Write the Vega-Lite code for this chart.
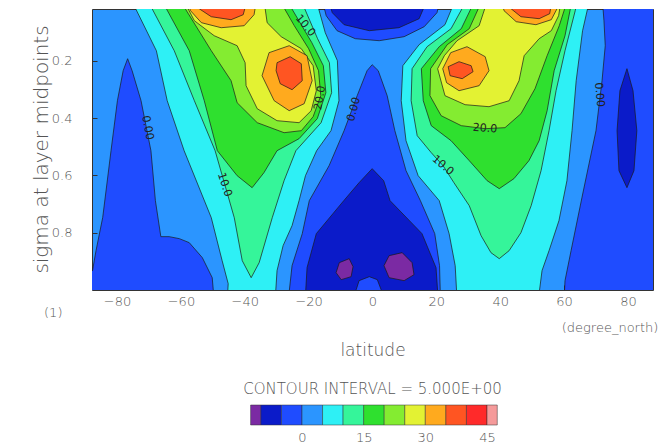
{
  "$schema": "https://vega.github.io/schema/vega-lite/v6.json",
  "background": "white",
  "padding": {"left": 30, "top": 8, "right": 0, "bottom": 0},
  "bounds": "flush",
  "spacing": 115,
  "config": {"font": "DejaVu Sans", "view": {"stroke": null}},
  "resolve": {"scale": {"x": "independent", "y": "independent", "color": "independent"}},
  "datasets": {
    "labs": [
      {"k":"a","t":"10.0","lat":-21.1,"s":0.078},
      {"k":"b","t":"20.0","lat":-16.4,"s":0.33},
      {"k":"c","t":"0.00","lat":-5.8,"s":0.37},
      {"k":"d","t":"0.00","lat":-70.5,"s":0.434},
      {"k":"e","t":"10.0","lat":-46.4,"s":0.633},
      {"k":"f","t":"20.0","lat":35.2,"s":0.437},
      {"k":"g","t":"10.0","lat":22.0,"s":0.566},
      {"k":"h","t":"0.00","lat":71.0,"s":0.319},
      {"k":"u","t":"(degree_north)","lat":74.4,"s":1.131},
      {"k":"v","t":"(1)","lat":-100,"s":1.079}
    ],
    "poly": [
      {"r":"sneg","band":-5,"i":0,"lat":-90.3,"s":1.037},{"r":"sneg","band":-5,"i":1,"lat":-90.3,"s":0.94},{"r":"sneg","band":-5,"i":2,"lat":-87.7,"s":0.9325},{"r":"sneg","band":-5,"i":3,"lat":-86.6,"s":0.8627},{"r":"sneg","band":-5,"i":4,"lat":-84.5,"s":0.7466},{"r":"sneg","band":-5,"i":5,"lat":-81.9,"s":0.514},{"r":"sneg","band":-5,"i":6,"lat":-79.9,"s":0.3396},{"r":"sneg","band":-5,"i":7,"lat":-78.1,"s":0.2349},{"r":"sneg","band":-5,"i":8,"lat":-76.7,"s":0.1931},{"r":"sneg","band":-5,"i":9,"lat":-75.3,"s":0.2349},{"r":"sneg","band":-5,"i":10,"lat":-72.5,"s":0.3396},{"r":"sneg","band":-5,"i":11,"lat":-69.4,"s":0.514},{"r":"sneg","band":-5,"i":12,"lat":-68.0,"s":0.6883},{"r":"sneg","band":-5,"i":13,"lat":-66.3,"s":0.8139},{"r":"sneg","band":-5,"i":14,"lat":-63.7,"s":0.8139},{"r":"sneg","band":-5,"i":15,"lat":-60.5,"s":0.8209},{"r":"sneg","band":-5,"i":16,"lat":-57.4,"s":0.8348},{"r":"sneg","band":-5,"i":17,"lat":-53.3,"s":0.8872},{"r":"sneg","band":-5,"i":18,"lat":-50.2,"s":0.957},{"r":"sneg","band":-5,"i":19,"lat":-49.6,"s":1.037},

      {"r":"s5","band":5,"i":0,"lat":-76.2,"s":-0.027},{"r":"s5","band":5,"i":1,"lat":-67.7,"s":0.1652},{"r":"s5","band":5,"i":2,"lat":-64.3,"s":0.3396},{"r":"s5","band":5,"i":3,"lat":-59.0,"s":0.514},{"r":"s5","band":5,"i":4,"lat":-50.5,"s":0.7477},{"r":"s5","band":5,"i":5,"lat":-47.1,"s":0.8977},{"r":"s5","band":5,"i":6,"lat":-45.2,"s":0.9779},{"r":"s5","band":5,"i":7,"lat":-45.5,"s":1.037},{"r":"s5","band":5,"i":8,"lat":-30.5,"s":1.037},{"r":"s5","band":5,"i":9,"lat":-29.9,"s":0.9325},{"r":"s5","band":5,"i":10,"lat":-28.0,"s":0.8453},{"r":"s5","band":5,"i":11,"lat":-25.2,"s":0.7756},{"r":"s5","band":5,"i":12,"lat":-23.0,"s":0.6883},{"r":"s5","band":5,"i":13,"lat":-21.0,"s":0.6012},{"r":"s5","band":5,"i":14,"lat":-17.5,"s":0.514},{"r":"s5","band":5,"i":15,"lat":-13.0,"s":0.4442},{"r":"s5","band":5,"i":16,"lat":-10.5,"s":0.3396},{"r":"s5","band":5,"i":17,"lat":-11.0,"s":0.2},{"r":"s5","band":5,"i":18,"lat":-14.8,"s":0.1024},{"r":"s5","band":5,"i":19,"lat":-18.0,"s":-0.027},

      {"r":"n5","band":5,"i":0,"lat":26.5,"s":-0.027},{"r":"n5","band":5,"i":1,"lat":22.7,"s":0.0745},{"r":"n5","band":5,"i":2,"lat":14.6,"s":0.1442},{"r":"n5","band":5,"i":3,"lat":9.5,"s":0.2175},{"r":"n5","band":5,"i":4,"lat":9.0,"s":0.3396},{"r":"n5","band":5,"i":5,"lat":10.5,"s":0.4791},{"r":"n5","band":5,"i":6,"lat":14.3,"s":0.6012},{"r":"n5","band":5,"i":7,"lat":20.9,"s":0.6883},{"r":"n5","band":5,"i":8,"lat":24.0,"s":0.8034},{"r":"n5","band":5,"i":9,"lat":25.9,"s":0.9151},{"r":"n5","band":5,"i":10,"lat":26.5,"s":1.037},{"r":"n5","band":5,"i":11,"lat":51.9,"s":1.037},{"r":"n5","band":5,"i":12,"lat":53.1,"s":0.9325},{"r":"n5","band":5,"i":13,"lat":55.3,"s":0.8627},{"r":"n5","band":5,"i":14,"lat":58.4,"s":0.7581},{"r":"n5","band":5,"i":15,"lat":60.9,"s":0.6186},{"r":"n5","band":5,"i":16,"lat":62.5,"s":0.4442},{"r":"n5","band":5,"i":17,"lat":63.8,"s":0.2698},{"r":"n5","band":5,"i":18,"lat":65.8,"s":0.0954},{"r":"n5","band":5,"i":19,"lat":68.3,"s":-0.027},

      {"r":"tongue","band":-5,"i":0,"lat":-26.4,"s":1.037},{"r":"tongue","band":-5,"i":1,"lat":-25.2,"s":0.9151},{"r":"tongue","band":-5,"i":2,"lat":-22.0,"s":0.8034},{"r":"tongue","band":-5,"i":3,"lat":-19.8,"s":0.6883},{"r":"tongue","band":-5,"i":4,"lat":-13.6,"s":0.5663},{"r":"tongue","band":-5,"i":5,"lat":-8.9,"s":0.4442},{"r":"tongue","band":-5,"i":6,"lat":-4.8,"s":0.3221},{"r":"tongue","band":-5,"i":7,"lat":-1.7,"s":0.2349},{"r":"tongue","band":-5,"i":8,"lat":-0.1,"s":0.214},{"r":"tongue","band":-5,"i":9,"lat":1.8,"s":0.2349},{"r":"tongue","band":-5,"i":10,"lat":4.6,"s":0.3221},{"r":"tongue","band":-5,"i":11,"lat":7.0,"s":0.4442},{"r":"tongue","band":-5,"i":12,"lat":10.5,"s":0.5837},{"r":"tongue","band":-5,"i":13,"lat":15.0,"s":0.6883},{"r":"tongue","band":-5,"i":14,"lat":19.5,"s":0.8034},{"r":"tongue","band":-5,"i":15,"lat":21.0,"s":0.9151},{"r":"tongue","band":-5,"i":16,"lat":21.3,"s":1.037},

      {"r":"etop1","band":-5,"i":0,"lat":-16.1,"s":-0.027},{"r":"etop1","band":-5,"i":1,"lat":-14.5,"s":0.0431},{"r":"etop1","band":-5,"i":2,"lat":-11.1,"s":0.0954},{"r":"etop1","band":-5,"i":3,"lat":-5.4,"s":0.1233},{"r":"etop1","band":-5,"i":4,"lat":2.1,"s":0.1303},{"r":"etop1","band":-5,"i":5,"lat":9.9,"s":0.1163},{"r":"etop1","band":-5,"i":6,"lat":16.2,"s":0.0814},{"r":"etop1","band":-5,"i":7,"lat":20.2,"s":0.0326},{"r":"etop1","band":-5,"i":8,"lat":21.5,"s":-0.027},

      {"r":"nneg1","band":-5,"i":0,"lat":71.9,"s":-0.027},{"r":"nneg1","band":-5,"i":1,"lat":72.5,"s":0.0605},{"r":"nneg1","band":-5,"i":2,"lat":72.9,"s":0.1477},{"r":"nneg1","band":-5,"i":3,"lat":71.9,"s":0.2698},{"r":"nneg1","band":-5,"i":4,"lat":70.0,"s":0.4442},{"r":"nneg1","band":-5,"i":5,"lat":65.6,"s":0.6779},{"r":"nneg1","band":-5,"i":6,"lat":62.2,"s":0.8627},{"r":"nneg1","band":-5,"i":7,"lat":60.3,"s":0.9674},{"r":"nneg1","band":-5,"i":8,"lat":60.0,"s":1.037},{"r":"nneg1","band":-5,"i":9,"lat":90.4,"s":1.037},{"r":"nneg1","band":-5,"i":10,"lat":90.4,"s":-0.027},

      {"r":"s10","band":10,"i":0,"lat":-71.2,"s":-0.027},{"r":"s10","band":10,"i":1,"lat":-62.1,"s":0.1652},{"r":"s10","band":10,"i":2,"lat":-55.8,"s":0.3396},{"r":"s10","band":10,"i":3,"lat":-49.3,"s":0.514},{"r":"s10","band":10,"i":4,"lat":-43.3,"s":0.7477},{"r":"s10","band":10,"i":5,"lat":-40.8,"s":0.8977},{"r":"s10","band":10,"i":6,"lat":-38.0,"s":0.957},{"r":"s10","band":10,"i":7,"lat":-35.5,"s":0.9046},{"r":"s10","band":10,"i":8,"lat":-31.4,"s":0.7477},{"r":"s10","band":10,"i":9,"lat":-27.7,"s":0.6186},{"r":"s10","band":10,"i":10,"lat":-24.0,"s":0.514},{"r":"s10","band":10,"i":11,"lat":-16.1,"s":0.4163},{"r":"s10","band":10,"i":12,"lat":-12.8,"s":0.3117},{"r":"s10","band":10,"i":13,"lat":-13.5,"s":0.207},{"r":"s10","band":10,"i":14,"lat":-17.2,"s":0.1233},{"r":"s10","band":10,"i":15,"lat":-23.0,"s":-0.027},

      {"r":"n10","band":10,"i":0,"lat":30.3,"s":-0.027},{"r":"n10","band":10,"i":1,"lat":24.6,"s":0.0884},{"r":"n10","band":10,"i":2,"lat":17.1,"s":0.1512},{"r":"n10","band":10,"i":3,"lat":12.4,"s":0.2279},{"r":"n10","band":10,"i":4,"lat":12.1,"s":0.3396},{"r":"n10","band":10,"i":5,"lat":14.0,"s":0.4616},{"r":"n10","band":10,"i":6,"lat":18.4,"s":0.5209},{"r":"n10","band":10,"i":7,"lat":22.1,"s":0.5663},{"r":"n10","band":10,"i":8,"lat":25.5,"s":0.6256},{"r":"n10","band":10,"i":9,"lat":30.3,"s":0.7058},{"r":"n10","band":10,"i":10,"lat":34.0,"s":0.8104},{"r":"n10","band":10,"i":11,"lat":37.1,"s":0.8697},{"r":"n10","band":10,"i":12,"lat":39.7,"s":0.8907},{"r":"n10","band":10,"i":13,"lat":42.8,"s":0.8627},{"r":"n10","band":10,"i":14,"lat":46.5,"s":0.7999},{"r":"n10","band":10,"i":15,"lat":49.7,"s":0.7058},{"r":"n10","band":10,"i":16,"lat":52.8,"s":0.5837},{"r":"n10","band":10,"i":17,"lat":55.3,"s":0.4442},{"r":"n10","band":10,"i":18,"lat":57.5,"s":0.3047},{"r":"n10","band":10,"i":19,"lat":60.3,"s":0.1652},{"r":"n10","band":10,"i":20,"lat":63.5,"s":0.0256},{"r":"n10","band":10,"i":21,"lat":64.6,"s":-0.027},

      {"r":"tnavy","band":-10,"i":0,"lat":-21.1,"s":1.037},{"r":"tnavy","band":-10,"i":1,"lat":-20.5,"s":0.9221},{"r":"tnavy","band":-10,"i":2,"lat":-17.6,"s":0.8034},{"r":"tnavy","band":-10,"i":3,"lat":-9.0,"s":0.6883},{"r":"tnavy","band":-10,"i":4,"lat":-4.2,"s":0.6256},{"r":"tnavy","band":-10,"i":5,"lat":-0.1,"s":0.5767},{"r":"tnavy","band":-10,"i":6,"lat":3.5,"s":0.6186},{"r":"tnavy","band":-10,"i":7,"lat":5.5,"s":0.6883},{"r":"tnavy","band":-10,"i":8,"lat":15.5,"s":0.8034},{"r":"tnavy","band":-10,"i":9,"lat":19.9,"s":0.9221},{"r":"tnavy","band":-10,"i":10,"lat":20.6,"s":1.037},{"r":"tnavy","band":-10,"i":11,"lat":2.7,"s":1.037},{"r":"tnavy","band":-10,"i":12,"lat":2.7,"s":0.9988},{"r":"tnavy","band":-10,"i":13,"lat":1.5,"s":0.9639},{"r":"tnavy","band":-10,"i":14,"lat":-1.0,"s":0.9535},{"r":"tnavy","band":-10,"i":15,"lat":-4.2,"s":0.9674},{"r":"tnavy","band":-10,"i":16,"lat":-5.1,"s":0.9988},{"r":"tnavy","band":-10,"i":17,"lat":-5.1,"s":1.037},

      {"r":"etop2","band":-10,"i":0,"lat":-14.2,"s":-0.027},{"r":"etop2","band":-10,"i":1,"lat":-12.6,"s":0.0326},{"r":"etop2","band":-10,"i":2,"lat":-8.9,"s":0.0745},{"r":"etop2","band":-10,"i":3,"lat":-1.0,"s":0.0954},{"r":"etop2","band":-10,"i":4,"lat":8.3,"s":0.0849},{"r":"etop2","band":-10,"i":5,"lat":14.6,"s":0.0535},{"r":"etop2","band":-10,"i":6,"lat":17.7,"s":-0.027},

      {"r":"nnavy","band":-10,"i":0,"lat":79.7,"s":0.2279},{"r":"nnavy","band":-10,"i":1,"lat":81.6,"s":0.3047},{"r":"nnavy","band":-10,"i":2,"lat":82.8,"s":0.4442},{"r":"nnavy","band":-10,"i":3,"lat":81.9,"s":0.5837},{"r":"nnavy","band":-10,"i":4,"lat":79.7,"s":0.643},{"r":"nnavy","band":-10,"i":5,"lat":77.2,"s":0.5837},{"r":"nnavy","band":-10,"i":6,"lat":76.6,"s":0.4442},{"r":"nnavy","band":-10,"i":7,"lat":77.5,"s":0.3047},{"r":"nnavy","band":-10,"i":8,"lat":79.7,"s":0.2279},

      {"r":"s15","band":15,"i":0,"lat":-66.8,"s":-0.027},{"r":"s15","band":15,"i":1,"lat":-57.4,"s":0.1652},{"r":"s15","band":15,"i":2,"lat":-52.7,"s":0.3396},{"r":"s15","band":15,"i":3,"lat":-48.6,"s":0.514},{"r":"s15","band":15,"i":4,"lat":-42.4,"s":0.6012},{"r":"s15","band":15,"i":5,"lat":-37.7,"s":0.643},{"r":"s15","band":15,"i":6,"lat":-34.0,"s":0.5907},{"r":"s15","band":15,"i":7,"lat":-29.9,"s":0.514},{"r":"s15","band":15,"i":8,"lat":-23.0,"s":0.4721},{"r":"s15","band":15,"i":9,"lat":-17.3,"s":0.4023},{"r":"s15","band":15,"i":10,"lat":-14.6,"s":0.3117},{"r":"s15","band":15,"i":11,"lat":-15.4,"s":0.2175},{"r":"s15","band":15,"i":12,"lat":-19.0,"s":0.1372},{"r":"s15","band":15,"i":13,"lat":-27.7,"s":-0.027},

      {"r":"n15","band":15,"i":0,"lat":32.8,"s":-0.027},{"r":"n15","band":15,"i":1,"lat":27.8,"s":0.0884},{"r":"n15","band":15,"i":2,"lat":20.9,"s":0.1512},{"r":"n15","band":15,"i":3,"lat":15.3,"s":0.2279},{"r":"n15","band":15,"i":4,"lat":15.9,"s":0.3396},{"r":"n15","band":15,"i":5,"lat":18.4,"s":0.4267},{"r":"n15","band":15,"i":6,"lat":24.6,"s":0.4791},{"r":"n15","band":15,"i":7,"lat":30.3,"s":0.5488},{"r":"n15","band":15,"i":8,"lat":35.9,"s":0.6186},{"r":"n15","band":15,"i":9,"lat":39.7,"s":0.6465},{"r":"n15","band":15,"i":10,"lat":44.3,"s":0.6116},{"r":"n15","band":15,"i":11,"lat":49.0,"s":0.5488},{"r":"n15","band":15,"i":12,"lat":52.2,"s":0.4791},{"r":"n15","band":15,"i":13,"lat":54.7,"s":0.3744},{"r":"n15","band":15,"i":14,"lat":56.9,"s":0.2349},{"r":"n15","band":15,"i":15,"lat":60.3,"s":0.1128},{"r":"n15","band":15,"i":16,"lat":62.8,"s":-0.027},

      {"r":"pl","band":-15,"i":0,"lat":-10.4,"s":0.9046},{"r":"pl","band":-15,"i":1,"lat":-7.3,"s":0.8907},{"r":"pl","band":-15,"i":2,"lat":-6.1,"s":0.9186},{"r":"pl","band":-15,"i":3,"lat":-6.7,"s":0.9535},{"r":"pl","band":-15,"i":4,"lat":-9.8,"s":0.9639},{"r":"pl","band":-15,"i":5,"lat":-11.4,"s":0.9395},{"r":"pl","band":-15,"i":6,"lat":-10.4,"s":0.9046},
      {"r":"pr","band":-15,"i":0,"lat":5.2,"s":0.8802},{"r":"pr","band":-15,"i":1,"lat":9.3,"s":0.8697},{"r":"pr","band":-15,"i":2,"lat":12.4,"s":0.9046},{"r":"pr","band":-15,"i":3,"lat":13.0,"s":0.9465},{"r":"pr","band":-15,"i":4,"lat":9.9,"s":0.9674},{"r":"pr","band":-15,"i":5,"lat":5.2,"s":0.957},{"r":"pr","band":-15,"i":6,"lat":3.6,"s":0.9151},{"r":"pr","band":-15,"i":7,"lat":5.2,"s":0.8802},

      {"r":"s20","band":20,"i":0,"lat":-61.2,"s":-0.027},{"r":"s20","band":20,"i":1,"lat":-50.5,"s":0.1652},{"r":"s20","band":20,"i":2,"lat":-44.3,"s":0.2698},{"r":"s20","band":20,"i":3,"lat":-42.4,"s":0.3466},{"r":"s20","band":20,"i":4,"lat":-36.1,"s":0.4163},{"r":"s20","band":20,"i":5,"lat":-27.7,"s":0.4512},{"r":"s20","band":20,"i":6,"lat":-22.3,"s":0.4442},{"r":"s20","band":20,"i":7,"lat":-18.6,"s":0.3954},{"r":"s20","band":20,"i":8,"lat":-16.2,"s":0.3221},{"r":"s20","band":20,"i":9,"lat":-16.9,"s":0.2349},{"r":"s20","band":20,"i":10,"lat":-20.0,"s":0.1582},{"r":"s20","band":20,"i":11,"lat":-24.5,"s":0.078},{"r":"s20","band":20,"i":12,"lat":-29.9,"s":-0.027},

      {"r":"n20","band":20,"i":0,"lat":35.0,"s":-0.027},{"r":"n20","band":20,"i":1,"lat":30.3,"s":0.0884},{"r":"n20","band":20,"i":2,"lat":23.4,"s":0.1442},{"r":"n20","band":20,"i":3,"lat":18.2,"s":0.2279},{"r":"n20","band":20,"i":4,"lat":18.0,"s":0.3221},{"r":"n20","band":20,"i":5,"lat":21.5,"s":0.3919},{"r":"n20","band":20,"i":6,"lat":27.8,"s":0.4267},{"r":"n20","band":20,"i":7,"lat":35.3,"s":0.4372},{"r":"n20","band":20,"i":8,"lat":41.5,"s":0.4337},{"r":"n20","band":20,"i":9,"lat":46.5,"s":0.3849},{"r":"n20","band":20,"i":10,"lat":50.9,"s":0.2977},{"r":"n20","band":20,"i":11,"lat":54.7,"s":0.1826},{"r":"n20","band":20,"i":12,"lat":58.5,"s":0.078},{"r":"n20","band":20,"i":13,"lat":61.5,"s":-0.027},

      {"r":"s25","band":25,"i":0,"lat":-59.9,"s":-0.027},{"r":"s25","band":25,"i":1,"lat":-55.8,"s":0.0605},{"r":"s25","band":25,"i":2,"lat":-49.6,"s":0.1128},{"r":"s25","band":25,"i":3,"lat":-42.4,"s":0.1477},{"r":"s25","band":25,"i":4,"lat":-39.9,"s":0.207},{"r":"s25","band":25,"i":5,"lat":-39.6,"s":0.2872},{"r":"s25","band":25,"i":6,"lat":-36.1,"s":0.3675},{"r":"s25","band":25,"i":7,"lat":-29.9,"s":0.4093},{"r":"s25","band":25,"i":8,"lat":-23.0,"s":0.4163},{"r":"s25","band":25,"i":9,"lat":-19.2,"s":0.3744},{"r":"s25","band":25,"i":10,"lat":-17.6,"s":0.3047},{"r":"s25","band":25,"i":11,"lat":-18.6,"s":0.2175},{"r":"s25","band":25,"i":12,"lat":-22.3,"s":0.1582},{"r":"s25","band":25,"i":13,"lat":-28.6,"s":0.1163},{"r":"s25","band":25,"i":14,"lat":-33.0,"s":0.0675},{"r":"s25","band":25,"i":15,"lat":-34.2,"s":-0.027},

      {"r":"n25","band":25,"i":0,"lat":36.5,"s":-0.027},{"r":"n25","band":25,"i":1,"lat":33.4,"s":0.078},{"r":"n25","band":25,"i":2,"lat":26.5,"s":0.1303},{"r":"n25","band":25,"i":3,"lat":22.5,"s":0.1826},{"r":"n25","band":25,"i":4,"lat":20.4,"s":0.2279},{"r":"n25","band":25,"i":5,"lat":22.7,"s":0.3221},{"r":"n25","band":25,"i":6,"lat":29.0,"s":0.3535},{"r":"n25","band":25,"i":7,"lat":36.5,"s":0.3605},{"r":"n25","band":25,"i":8,"lat":42.8,"s":0.3396},{"r":"n25","band":25,"i":9,"lat":45.9,"s":0.2698},{"r":"n25","band":25,"i":10,"lat":47.5,"s":0.1826},{"r":"n25","band":25,"i":11,"lat":52.2,"s":0.1233},{"r":"n25","band":25,"i":12,"lat":56.0,"s":0.0954},{"r":"n25","band":25,"i":13,"lat":58.3,"s":0.0431},{"r":"n25","band":25,"i":14,"lat":59.3,"s":-0.027},

      {"r":"s30c","band":30,"i":0,"lat":-34.6,"s":0.2524},{"r":"s30c","band":30,"i":1,"lat":-32.4,"s":0.1721},{"r":"s30c","band":30,"i":2,"lat":-26.1,"s":0.1477},{"r":"s30c","band":30,"i":3,"lat":-20.5,"s":0.1826},{"r":"s30c","band":30,"i":4,"lat":-18.9,"s":0.2698},{"r":"s30c","band":30,"i":5,"lat":-21.4,"s":0.35},{"r":"s30c","band":30,"i":6,"lat":-26.1,"s":0.3744},{"r":"s30c","band":30,"i":7,"lat":-30.8,"s":0.3396},{"r":"s30c","band":30,"i":8,"lat":-34.6,"s":0.2524},
      {"r":"s30b","band":30,"i":0,"lat":-58.7,"s":-0.027},{"r":"s30b","band":30,"i":1,"lat":-57.0,"s":0.0256},{"r":"s30b","band":30,"i":2,"lat":-53.6,"s":0.0675},{"r":"s30b","band":30,"i":3,"lat":-47.4,"s":0.085},{"r":"s30b","band":30,"i":4,"lat":-40.2,"s":0.078},{"r":"s30b","band":30,"i":5,"lat":-37.1,"s":0.0396},{"r":"s30b","band":30,"i":6,"lat":-36.1,"s":-0.027},
      {"r":"n30c","band":30,"i":0,"lat":22.0,"s":0.2279},{"r":"n30c","band":30,"i":1,"lat":24.5,"s":0.172},{"r":"n30c","band":30,"i":2,"lat":29.6,"s":0.1512},{"r":"n30c","band":30,"i":3,"lat":35.3,"s":0.1861},{"r":"n30c","band":30,"i":4,"lat":36.5,"s":0.2349},{"r":"n30c","band":30,"i":5,"lat":33.4,"s":0.2872},{"r":"n30c","band":30,"i":6,"lat":27.1,"s":0.3047},{"r":"n30c","band":30,"i":7,"lat":23.2,"s":0.2768},{"r":"n30c","band":30,"i":8,"lat":22.0,"s":0.2279},
      {"r":"n30b","band":30,"i":0,"lat":40.0,"s":-0.027},{"r":"n30b","band":30,"i":1,"lat":41.2,"s":0.0256},{"r":"n30b","band":30,"i":2,"lat":45.0,"s":0.064},{"r":"n30b","band":30,"i":3,"lat":51.2,"s":0.0745},{"r":"n30b","band":30,"i":4,"lat":56.0,"s":0.057},{"r":"n30b","band":30,"i":5,"lat":57.8,"s":0.0187},{"r":"n30b","band":30,"i":6,"lat":58.2,"s":-0.027},

      {"r":"s35c","band":35,"i":0,"lat":-29.9,"s":0.207},{"r":"s35c","band":35,"i":1,"lat":-25.8,"s":0.1861},{"r":"s35c","band":35,"i":2,"lat":-22.3,"s":0.2105},{"r":"s35c","band":35,"i":3,"lat":-22.0,"s":0.2698},{"r":"s35c","band":35,"i":4,"lat":-25.2,"s":0.3012},{"r":"s35c","band":35,"i":5,"lat":-28.9,"s":0.2803},{"r":"s35c","band":35,"i":6,"lat":-30.2,"s":0.2349},{"r":"s35c","band":35,"i":7,"lat":-29.9,"s":0.207},
      {"r":"s35b","band":35,"i":0,"lat":-55.5,"s":-0.027},{"r":"s35b","band":35,"i":1,"lat":-54.3,"s":0.0187},{"r":"s35b","band":35,"i":2,"lat":-50.5,"s":0.0466},{"r":"s35b","band":35,"i":3,"lat":-44.3,"s":0.057},{"r":"s35b","band":35,"i":4,"lat":-40.5,"s":0.0396},{"r":"s35b","band":35,"i":5,"lat":-38.9,"s":-0.027},
      {"r":"n35c","band":35,"i":0,"lat":23.7,"s":0.221},{"r":"n35c","band":35,"i":1,"lat":27.1,"s":0.2035},{"r":"n35c","band":35,"i":2,"lat":30.9,"s":0.2175},{"r":"n35c","band":35,"i":3,"lat":31.5,"s":0.2384},{"r":"n35c","band":35,"i":4,"lat":28.1,"s":0.2628},{"r":"n35c","band":35,"i":5,"lat":24.3,"s":0.2524},{"r":"n35c","band":35,"i":6,"lat":23.7,"s":0.221},
      {"r":"n35b","band":35,"i":0,"lat":42.5,"s":-0.027},{"r":"n35b","band":35,"i":1,"lat":43.4,"s":0.0187},{"r":"n35b","band":35,"i":2,"lat":46.5,"s":0.0466},{"r":"n35b","band":35,"i":3,"lat":52.2,"s":0.0535},{"r":"n35b","band":35,"i":4,"lat":55.5,"s":0.0361},{"r":"n35b","band":35,"i":5,"lat":56.5,"s":-0.027}
    ],
    "bar": [
      {"band":-15,"lo":-12.5,"hi":-10},{"band":-10,"lo":-10,"hi":-5},{"band":-5,"lo":-5,"hi":0},{"band":0,"lo":0,"hi":5},{"band":5,"lo":5,"hi":10},{"band":10,"lo":10,"hi":15},{"band":15,"lo":15,"hi":20},{"band":20,"lo":20,"hi":25},{"band":25,"lo":25,"hi":30},{"band":30,"lo":30,"hi":35},{"band":35,"lo":35,"hi":40},{"band":40,"lo":40,"hi":45},{"band":45,"lo":45,"hi":47.5}
    ]
  },
  "vconcat": [
    {
      "width": 561,
      "height": 281,
      "view": {"fill": "#2b95ff", "stroke": "#333", "strokeWidth": 1},
      "encoding": {
        "x": {"field": "lat", "type": "quantitative",
          "scale": {"domain": [-87.86, 87.86], "nice": false, "zero": false},
          "axis": {"values": [-80,-60,-40,-20,0,20,40,60,80], "title": "latitude", "grid": false, "domain": false,
            "tickSize": -5, "tickColor": "#333", "labelPadding": 10, "labelFontSize": 13, "labelFontWeight": 200, "labelColor": "#555",
            "titleFontSize": 17, "titleFontWeight": 200, "titleColor": "#555", "titleY": 65, "titleBaseline": "alphabetic"}},
        "y": {"field": "s", "type": "quantitative",
          "scale": {"domain": [0.0197, 1.0], "reverse": true, "nice": false, "zero": false},
          "axis": {"values": [0.2,0.4,0.6,0.8], "format": ".1f", "title": "sigma at layer midpoints", "grid": false, "domain": false,
            "tickSize": -5, "tickColor": "#333", "labelPadding": 25, "labelFontSize": 13, "labelFontWeight": 200, "labelColor": "#555",
            "titleFontSize": 20, "titleFontWeight": 200, "titleColor": "#555", "titleX": -51, "titleY": 140,
            "titleAngle": -90, "titleAlign": "center", "titleBaseline": "middle"}}
      },
      "layer": [
        {
          "data": {"name": "poly"},
          "encoding": {
            "color": {"field": "band", "type": "quantitative", "legend": null,
              "scale": {"type": "threshold", "domain": [-10,-5,0,5,10,15,20,25,30,35,40,45],
                "range": ["#7b2aa3","#0b1bc9","#1f4cff","#2b95ff","#2ef0f5","#35f59a","#2fe02f","#84ec31","#e3f233","#ffaa1e","#ff5522","#ff2a2a","#f59a9a"]}},
            "detail": {"field": "r"},
            "order": {"field": "i", "type": "quantitative"}
          },
          "layer": [
            {"transform": [{"filter": "abs(datum.band) == 5"}], "mark": {"type": "line", "filled": true, "stroke": "#1a1a1a", "strokeWidth": 0.7, "clip": true}},
            {"transform": [{"filter": "abs(datum.band) == 10"}], "mark": {"type": "line", "filled": true, "stroke": "#1a1a1a", "strokeWidth": 0.7, "clip": true}},
            {"transform": [{"filter": "abs(datum.band) == 15"}], "mark": {"type": "line", "filled": true, "stroke": "#1a1a1a", "strokeWidth": 0.7, "clip": true}},
            {"transform": [{"filter": "abs(datum.band) == 20"}], "mark": {"type": "line", "filled": true, "stroke": "#1a1a1a", "strokeWidth": 0.7, "clip": true}},
            {"transform": [{"filter": "abs(datum.band) == 25"}], "mark": {"type": "line", "filled": true, "stroke": "#1a1a1a", "strokeWidth": 0.7, "clip": true}},
            {"transform": [{"filter": "abs(datum.band) == 30"}], "mark": {"type": "line", "filled": true, "stroke": "#1a1a1a", "strokeWidth": 0.7, "clip": true}},
            {"transform": [{"filter": "abs(datum.band) == 35"}], "mark": {"type": "line", "filled": true, "stroke": "#1a1a1a", "strokeWidth": 0.7, "clip": true}}
          ]
        },
        {
          "data": {"name": "labs"},
          "encoding": {"text": {"field": "t", "type": "nominal"}},
          "layer": [
            {"transform": [{"filter": "datum.k == 'a'"}], "mark": {"type": "text", "angle": 50, "fontSize": 11, "fill": "#222"}},
            {"transform": [{"filter": "datum.k == 'b'"}], "mark": {"type": "text", "angle": 280, "fontSize": 11, "fill": "#222"}},
            {"transform": [{"filter": "datum.k == 'c'"}], "mark": {"type": "text", "angle": 285, "fontSize": 11, "fill": "#222"}},
            {"transform": [{"filter": "datum.k == 'd'"}], "mark": {"type": "text", "angle": 80, "fontSize": 11, "fill": "#222"}},
            {"transform": [{"filter": "datum.k == 'e'"}], "mark": {"type": "text", "angle": 72, "fontSize": 11, "fill": "#222"}},
            {"transform": [{"filter": "datum.k == 'f'"}], "mark": {"type": "text", "angle": 4, "fontSize": 11, "fill": "#222"}},
            {"transform": [{"filter": "datum.k == 'g'"}], "mark": {"type": "text", "angle": 40, "fontSize": 11, "fill": "#222"}},
            {"transform": [{"filter": "datum.k == 'h'"}], "mark": {"type": "text", "angle": 85, "fontSize": 11, "fill": "#222"}},
            {"transform": [{"filter": "datum.k == 'u' || datum.k == 'v'"}], "mark": {"type": "text", "fontSize": 13, "fontWeight": 200, "fill": "#555"}}
          ]
        }
      ]
    },
    {
      "width": 561,
      "height": 20,
      "data": {"name": "bar"},
      "view": {"stroke": null},
      "title": {"text": "CONTOUR INTERVAL = 5.000E+00", "fontSize": 15, "fontWeight": 200, "color": "#555", "offset": 8, "anchor": "middle"},
      "mark": {"type": "rect", "stroke": "#333", "strokeWidth": 0.5},
      "encoding": {
        "x": {"field": "lo", "type": "quantitative", "scale": {"domain": [-51.08, 85.38], "nice": false, "zero": false},
          "axis": {"values": [0,15,30,45], "title": null, "ticks": false, "domain": false, "grid": false, "labelPadding": 6, "labelFontSize": 13, "labelFontWeight": 200, "labelColor": "#555"}},
        "x2": {"field": "hi"},
        "color": {"field": "band", "type": "quantitative", "legend": null,
          "scale": {"type": "threshold", "domain": [-10,-5,0,5,10,15,20,25,30,35,40,45],
            "range": ["#7b2aa3","#0b1bc9","#1f4cff","#2b95ff","#2ef0f5","#35f59a","#2fe02f","#84ec31","#e3f233","#ffaa1e","#ff5522","#ff2a2a","#f59a9a"]}}
      }
    }
  ]
}
